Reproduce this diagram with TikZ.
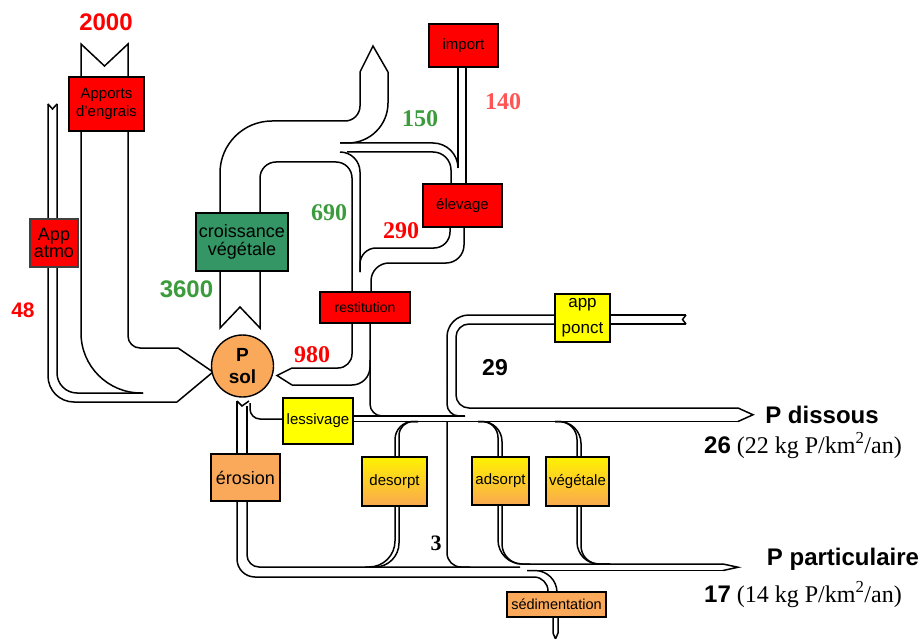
\documentclass[tikz,border=0pt]{standalone}
\usepackage{fontspec}
\setmainfont{Liberation Serif}
\setsansfont{Liberation Sans}
\definecolor{BoxRed}{RGB}{255,0,0}
\definecolor{BoxGreen}{RGB}{51,150,100}
\definecolor{BoxYellow}{RGB}{255,255,0}
\definecolor{BoxOrange}{RGB}{250,168,90}
\definecolor{GradTop}{RGB}{255,242,0}
\definecolor{GradBottom}{RGB}{250,168,80}
\definecolor{LabelRed}{RGB}{255,0,0}
\definecolor{LabelGreen}{RGB}{60,155,60}
\definecolor{LabelSalmon}{RGB}{255,85,85}
\newcommand{\fsz}[2]{\fontsize{#1}{#2}\selectfont}
\tikzset{
  flow/.style={line width=1.5pt},
  box/.style={draw, line width=1.4pt, inner sep=0pt, align=center, font=\sffamily\fsz{15}{18}},
  redbox/.style={box, fill=BoxRed},
  greenbox/.style={box, fill=BoxGreen},
  yellowbox/.style={box, fill=BoxYellow},
  orangebox/.style={box, fill=BoxOrange},
  gradbox/.style={box, top color=GradTop, bottom color=GradBottom},
  numsans/.style={inner sep=0pt, font=\sffamily\bfseries\fsz{24}{24}},
  numserif/.style={inner sep=0pt, font=\bfseries\fsz{24}{24}},
}
\begin{document}
\begin{tikzpicture}[x=1pt,y=-1pt]
  \useasboundingbox (0,0) rectangle (923,639);
  % apports d'engrais, app atmo
  \draw[flow] (81,77)--(81,44)--(104.5,66)--(128,44)--(128,77);
  \draw[flow,rounded corners=60pt] (81,131)--(81,393)--(143,393);
  \draw[flow,rounded corners=12pt] (128,131)--(128,348)--(178,348);
  \draw[flow] (178,348)--(213,372)--(177,402);
  \draw[flow] (48,104)--(52.5,109)--(57,104);
  \draw[flow,rounded corners=26pt] (48,104)--(48,402)--(177,402);
  \draw[flow,rounded corners=20pt] (57,104)--(57,393)--(143,393);
  % croissance vegetale, export, 150, 690
  \draw[flow] (220,271)--(220,328)--(240,307)--(260,328)--(260,271);
  \draw[flow,rounded corners=52pt] (220,213)--(220,121)--(300,121);
  \draw[flow,rounded corners=15pt] (300,121)--(360,121)--(360,72);
  \draw[flow] (360,72)--(373,46)--(388,72);
  \draw[flow,rounded corners=40pt] (388,72)--(388,143)--(340,143);
  \draw[flow,rounded corners=16pt] (260,213)--(260,162)--(352,162)--(352,292);
  \draw[flow,rounded corners=25pt] (340,143)--(458,143)--(458,168);
  \draw[flow,rounded corners=18pt] (347,152)--(451,152)--(451,184);
  \draw[flow,rounded corners=20pt] (340,152)--(360,152)--(360,272);
  % import, elevage
  \draw[flow] (458,67)--(458,168);
  \draw[flow] (466,67)--(466,184);
  \draw[flow,rounded corners=16pt] (450,227)--(450,248)--(360,248)--(360,272);
  \draw[flow,rounded corners=18pt] (464,227)--(464,263)--(371,263)--(371,292);
  % restitution
  \draw[flow,rounded corners=14pt] (352,323)--(352,368)--(292,368);
  \draw[flow] (292,368)--(277,375.5)--(292,385);
  \draw[flow,rounded corners=18pt] (292,385)--(370,385)--(370,323);
  \draw[flow,rounded corners=12pt] (370,360)--(370,416)--(395,416);
  % lessivage, erosion
  \draw[flow] (237,401)--(242,406)--(249,401);
  \draw[flow,rounded corners=10pt] (250,403)--(250,419)--(283,419);
  \draw[flow] (353,416)--(465,416);
  \draw[flow] (353,421.5)--(738,421.5);
  \draw[flow] (237,401)--(237,454);
  \draw[flow] (247,406)--(247,454);
  \draw[flow,rounded corners=18pt] (237,501)--(237,577)--(500,577);
  \draw[flow,rounded corners=14pt] (500,577)--(548,577)--(548,592);
  \draw[flow,rounded corners=12pt] (247,501)--(247,567)--(520,567);
  \draw[flow,rounded corners=22pt] (527,570.5)--(557,570.5)--(557,592);
  \draw[flow] (527,570.5)--(723,570.5);
  \draw[flow] (553,617)--(553,633)--(555.5,639)--(558,633)--(558,617);
  % app ponct
  \draw[flow,rounded corners=22pt] (555,315)--(447,315)--(447,380);
  \draw[flow,rounded corners=12pt] (447,380)--(447,416)--(465,416);
  \draw[flow,rounded corners=13pt] (555,324)--(456,324)--(456,408)--(738,408);
  \draw[flow] (610,315)--(686,315) (610,324)--(686,324);
  \draw[flow] (686,315)--(682.5,319.5)--(686,324);
  % desorpt, adsorpt, vegetale
  \draw[flow,rounded corners=18pt] (395,457)--(395,421.5)--(418,421.5);
  \draw[flow,rounded corners=14pt] (399,457)--(399,421.5)--(418,421.5);
  \draw[flow,rounded corners=26pt] (395,506)--(395,567)--(365,567);
  \draw[flow,rounded corners=24pt] (399,506)--(399,567)--(370,567);
  \draw[flow,rounded corners=14pt] (447,421.5)--(447,567)--(470,567);
  \draw[flow,rounded corners=16pt] (498,457)--(498,421.5)--(478,421.5);
  \draw[flow,rounded corners=20pt] (502,457)--(502,421.5)--(478,421.5);
  \draw[flow,rounded corners=24pt] (498,505)--(498,564)--(723,564);
  \draw[flow,rounded corners=20pt] (502,505)--(502,564)--(530,564);
  \draw[flow,rounded corners=18pt] (577,457)--(577,421.5)--(555,421.5);
  \draw[flow,rounded corners=22pt] (581,457)--(581,421.5)--(555,421.5);
  \draw[flow,rounded corners=22pt] (577,506)--(577,564)--(610,564);
  \draw[flow,rounded corners=18pt] (581,506)--(581,564)--(610,564);
  % sorties
  \draw[flow] (738,408)--(753,414.75)--(738,421.5);
  \draw[flow] (723,564)--(738,567.25)--(723,570.5);

  \node[redbox, minimum width=75pt, minimum height=54pt] (engrais) at (106.5,104) {Apports\\d’engrais};
  \node[redbox, draw=black!75, minimum width=48pt, minimum height=48pt, font=\sffamily\fsz{18}{17}] (atmo) at (54,243) {App\\atmo};
  \node[greenbox, minimum width=92pt, minimum height=58pt, font=\sffamily\fsz{18}{18}] (croiss) at (242,242) {croissance\\végétale};
  \node[redbox, minimum width=69pt, minimum height=43pt] (import) at (463.5,45.5) {import};
  \node[redbox, minimum width=79pt, minimum height=43pt] (elevage) at (462.5,205.5) {élevage};
  \node[redbox, minimum width=90pt, minimum height=31pt, font=\sffamily\fsz{14}{14}] (restit) at (365,307.5) {restitution};
  \node[yellowbox, minimum width=55pt, minimum height=48pt, font=\sffamily\fsz{17}{26}] (ponct) at (582.5,318) {app\\ponct};
  \node[yellowbox, minimum width=70pt, minimum height=46pt, font=\sffamily\fsz{15}{15}] (lessiv) at (318,421) {lessivage};
  \node[orangebox, minimum width=69pt, minimum height=47pt, font=\sffamily\fsz{18}{18}] (erosion) at (245.5,477.5) {érosion};
  \node[gradbox, minimum width=65pt, minimum height=49pt] (desorpt) at (394.5,481.5) {desorpt};
  \node[gradbox, minimum width=57pt, minimum height=48pt] (adsorpt) at (500.5,481) {adsorpt};
  \node[gradbox, minimum width=63pt, minimum height=49pt] (vegetale) at (577.5,481.5) {végétale};
  \node[orangebox, minimum width=99pt, minimum height=25pt, font=\sffamily\fsz{14.5}{15}] (sedim) at (556.5,604.5) {sédimentation};
  \node[circle, draw, line width=1.4pt, fill=BoxOrange, minimum size=62pt, inner sep=0pt, align=center,
    font=\sffamily\bfseries\fsz{19}{22}] (Psol) at (242.5,366) {P\\sol};

  \node[numsans, text=LabelRed] (v2000) at (106,22.5) {2000};
  \node[numsans, text=LabelRed, font=\sffamily\bfseries\fsz{21}{21}] (v48) at (23,310) {48};
  \node[numsans, text=LabelGreen] (v3600) at (186.5,289) {3600};
  \node[numserif, text=LabelGreen] (v690) at (329,213) {690};
  \node[numserif, text=LabelGreen] (v150) at (420,119) {150};
  \node[numserif, text=LabelSalmon] (v140) at (503,102) {140};
  \node[numserif, text=LabelRed] (v290) at (401,231) {290};
  \node[numserif, text=LabelRed] (v980) at (312,355) {980};
  \node[numsans, font=\sffamily\bfseries\fsz{23}{23}] (v29) at (495,368) {29};
  \node[numserif, font=\bfseries\fsz{22}{22}] (v3) at (436,543) {3};
  \node[anchor=base, inner sep=0pt, font=\sffamily\bfseries\fsz{24}{24}] (dissous) at (822,423) {P dissous};
  \node[anchor=base, inner sep=0pt, font=\fsz{24}{24}] (flux26) at (803,453) {\textsf{\textbf{26}} (22 kg P/km\textsuperscript{2}/an)};
  \node[anchor=base, inner sep=0pt, font=\sffamily\bfseries\fsz{24}{24}] (partic) at (843,565) {P particulaire};
  \node[anchor=base, inner sep=0pt, font=\fsz{24}{24}] (flux17) at (803,602) {\textsf{\textbf{17}} (14 kg P/km\textsuperscript{2}/an)};
\end{tikzpicture}
\end{document}
